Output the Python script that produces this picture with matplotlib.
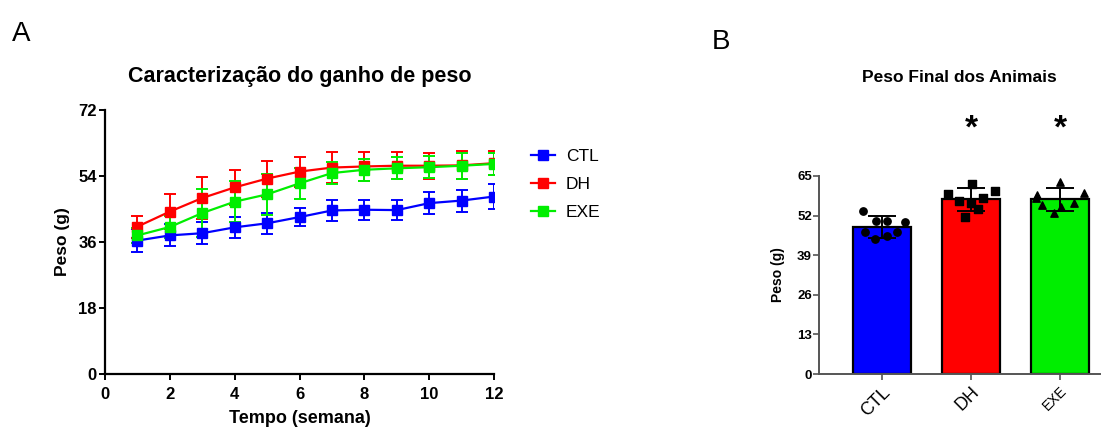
import numpy as np
import matplotlib
matplotlib.use("Agg")
import matplotlib.pyplot as plt
from matplotlib.lines import Line2D

plt.rcParams["font.family"] = ["Liberation Sans", "DejaVu Sans"]

# Panel A: weekly body weight (mean +/- SD)
weeks = [1, 2, 3, 4, 5, 6, 7, 8, 9, 10, 11, 12]
ctl_mean = [36.4, 37.8, 38.4, 40.0, 41.1, 42.8, 44.6, 44.8, 44.7, 46.6, 47.3, 48.4]
ctl_sd = [3.2, 3.0, 3.0, 2.8, 2.8, 2.5, 2.8, 2.7, 2.8, 3.0, 3.0, 3.3]
dh_mean = [40.2, 44.3, 48.0, 50.9, 53.3, 55.2, 56.3, 56.6, 56.8, 56.8, 56.9, 57.5]
dh_sd = [3.0, 4.8, 5.7, 4.8, 4.9, 4.1, 4.2, 3.9, 3.7, 3.6, 3.8, 3.3]
exe_mean = [37.8, 40.1, 43.9, 47.0, 49.0, 52.0, 54.8, 55.7, 56.1, 56.4, 56.8, 57.3]
exe_sd = [2.0, 3.0, 6.5, 5.6, 5.5, 4.3, 3.0, 3.0, 3.0, 3.0, 3.5, 3.0]

# Panel B: final weight
groups = ["CTL", "DH", "EXE"]
final_mean = [48.2, 57.3, 57.3]
final_sd = [3.7, 3.7, 3.7]
ctl_final = [53.6, 46.7, 44.2, 45.3, 46.5, 50.0, 50.2, 50.2]
dh_final = [59.1, 62.4, 60.2, 56.9, 57.7, 54.1, 51.6, 56.2]
exe_final = [58.8, 63.1, 59.5, 52.9, 55.5, 56.0, 54.9, 57.8]
significant = [False, True, True]

colors = ["#0000ff", "#ff0000", "#00ee00"]
# horizontal spread of the dots as seen in the picture
spread = [
    [-0.21, -0.19, -0.08, 0.06, 0.17, 0.26, 0.06, -0.07],
    [-0.26, 0.01, 0.27, -0.13, 0.13, 0.08, -0.07, 0.0],
    [-0.26, 0.0, 0.27, -0.07, -0.20, 0.16, 0.01, -0.27],
]
dot_markers = ["o", "s", "^"]

fig = plt.figure(figsize=(11.07, 4.30), dpi=100)

# ---- Panel A ----
ax = fig.add_axes([0.0949, 0.1302, 0.3514, 0.614])
series = [ctl_mean, dh_mean, exe_mean]
errors = [ctl_sd, dh_sd, exe_sd]
for m, sd, c in zip(series, errors, colors):
    ax.errorbar(weeks, m, yerr=sd, color=c, marker="s", markersize=7,
                linewidth=1.6, elinewidth=1.4, capsize=4, capthick=1.4)

ax.set_xlim(0, 12)
ax.set_ylim(0, 72)
ax.set_xticks(range(0, 13, 2))
ax.set_yticks([0, 18, 36, 54, 72])
for s in ["top", "right"]:
    ax.spines[s].set_visible(False)
for s in ["left", "bottom"]:
    ax.spines[s].set_linewidth(1.6)
ax.tick_params(width=1.4, length=4, labelsize=12)
ax.tick_params(axis="x", pad=5)
ax.tick_params(axis="y", pad=2)
for lab in ax.get_xticklabels() + ax.get_yticklabels():
    lab.set_fontweight("bold")
ax.set_xlabel("Tempo (semana)", fontsize=13, fontweight="bold", labelpad=6)
ax.set_ylabel("Peso (g)", fontsize=12.5, fontweight="bold", labelpad=6)
ax.set_title("Caracterização do ganho de peso", fontsize=15.5, fontweight="bold", pad=20)

handles = [Line2D([], [], color=c, marker="s", markersize=7, linewidth=1.6)
           for c in colors]
fig.legend(handles=handles, labels=groups, loc="upper left",
           bbox_to_anchor=(0.4655, 0.691), frameon=False, fontsize=12.5,
           handlelength=1.4, labelspacing=0.75, handletextpad=0.6)

fig.text(0.011, 0.905, "A", fontsize=20)
fig.text(0.643, 0.885, "B", fontsize=20)

# ---- Panel B ----
bx = fig.add_axes([0.7398, 0.1302, 0.254, 0.4605])
x = np.arange(len(groups))
bx.bar(x, final_mean, width=0.66, color=colors, edgecolor="black", linewidth=1.6, zorder=1)
for i, vals in enumerate([ctl_final, dh_final, exe_final]):
    bx.scatter(x[i] + np.array(spread[i]), vals, marker=dot_markers[i], s=28,
               color="black", zorder=3, clip_on=False)
bx.errorbar(x, final_mean, yerr=final_sd, fmt="none", ecolor="black",
            elinewidth=1.4, capsize=10, capthick=1.4, zorder=4)
for i, sig in enumerate(significant):
    if sig:
        bx.text(x[i], 80.5, "*", ha="center", va="center", fontsize=24,
                fontweight="bold")

bx.set_xlim(-0.707, 2.45)
bx.set_ylim(0, 65)
bx.set_yticks([0, 13, 26, 39, 52, 65])
bx.set_xticks(x)
bx.set_xticklabels(groups, rotation=45, ha="right", rotation_mode="anchor")
for s in ["top", "right"]:
    bx.spines[s].set_visible(False)
for s in ["left", "bottom"]:
    bx.spines[s].set_linewidth(1.4)
    bx.spines[s].set_color("#555555")
bx.tick_params(axis="y", width=1.2, length=4, labelsize=9.5, pad=1, color="#555555")
bx.tick_params(axis="x", width=1.2, length=4, labelsize=13, pad=3, color="#555555")
for lab in bx.get_yticklabels():
    lab.set_fontweight("bold")
bx.get_xticklabels()[2].set_fontsize(10)
bx.set_ylabel("Peso (g)", fontsize=10, fontweight="bold", labelpad=9)
bx.set_title("Peso Final dos Animais", fontsize=12.5, fontweight="bold", pad=68)

fig.savefig("out.png", dpi=100)
